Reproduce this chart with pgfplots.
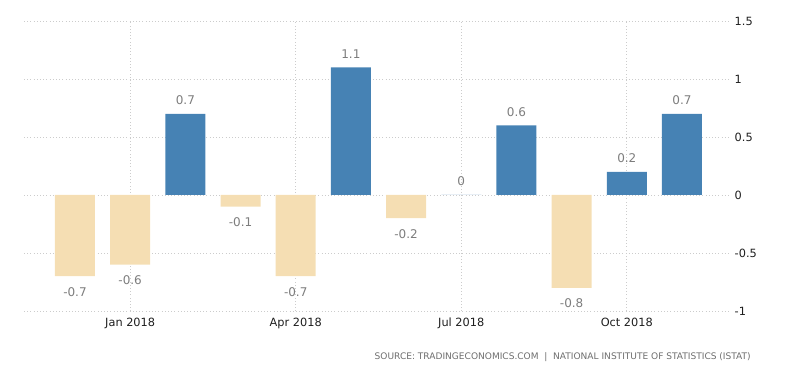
\documentclass[border=0pt]{standalone}
\usepackage{pgfplots}
\pgfplotsset{compat=1.18}
\usepackage{fontspec}
\setmainfont{DejaVu Sans}
\definecolor{posblue}{RGB}{70,130,180}
\definecolor{negbeige}{RGB}{245,222,179}
\definecolor{lblgray}{RGB}{125,125,125}
\definecolor{tickdark}{RGB}{30,30,30}
\definecolor{srcgray}{RGB}{110,110,110}
\begin{document}
\begin{tikzpicture}
\useasboundingbox (-18pt,-46.5pt) rectangle (582pt,233.25pt);
\begin{axis}[
  scale only axis,
  width=529.5pt, height=217.5pt,
  xmin=-0.924, xmax=11.87,
  ymin=-1, ymax=1.5,
  ytick={-1,-0.5,0,0.5,1,1.5},
  yticklabels={-1,-0.5,0,0.5,1,1.5},
  yticklabel pos=right,
  xtick={1,4,7,10},
  xticklabels={Jan 2018,Apr 2018,Jul 2018,Oct 2018},
  axis line style={draw=none},
  major tick length=0pt,
  xmajorgrids, ymajorgrids,
  major grid style={dotted, gray!40, line width=0.5pt},
  tick label style={font=\fontsize{8.5}{10}\selectfont, text=tickdark},
  x tick label style={yshift=-2pt},
  ybar, bar width=30pt, bar shift=0pt,
  clip=false,
]
\addplot[fill=posblue, draw=none,
  nodes near coords={\pgfmathprintnumber[assume math mode=true,fixed,precision=1]{\pgfplotspointmeta}},
  nodes near coords style={font=\fontsize{9}{10}\selectfont, text=lblgray, inner sep=6.5pt}]
  coordinates {(2,0.7) (5,1.1) (7,0) (8,0.6) (10,0.2) (11,0.7)};
\addplot[fill=negbeige, draw=none,
  nodes near coords={\pgfmathprintnumber[assume math mode=true,fixed,precision=1]{\pgfplotspointmeta}},
  nodes near coords style={font=\fontsize{9}{10}\selectfont, text=lblgray, inner sep=8pt}]
  coordinates {(0,-0.7) (1,-0.6) (3,-0.1) (4,-0.7) (6,-0.2) (9,-0.8)};
\end{axis}
\node[anchor=east, inner sep=0pt] at (545.25pt,-34.5pt) {\resizebox{282pt}{!}{\color{srcgray}\fontsize{6}{7}\selectfont SOURCE:\ TRADINGECONOMICS.COM\ \ |\ \ NATIONAL\ INSTITUTE\ OF\ STATISTICS\ (ISTAT)}};
\end{tikzpicture}
\end{document}
